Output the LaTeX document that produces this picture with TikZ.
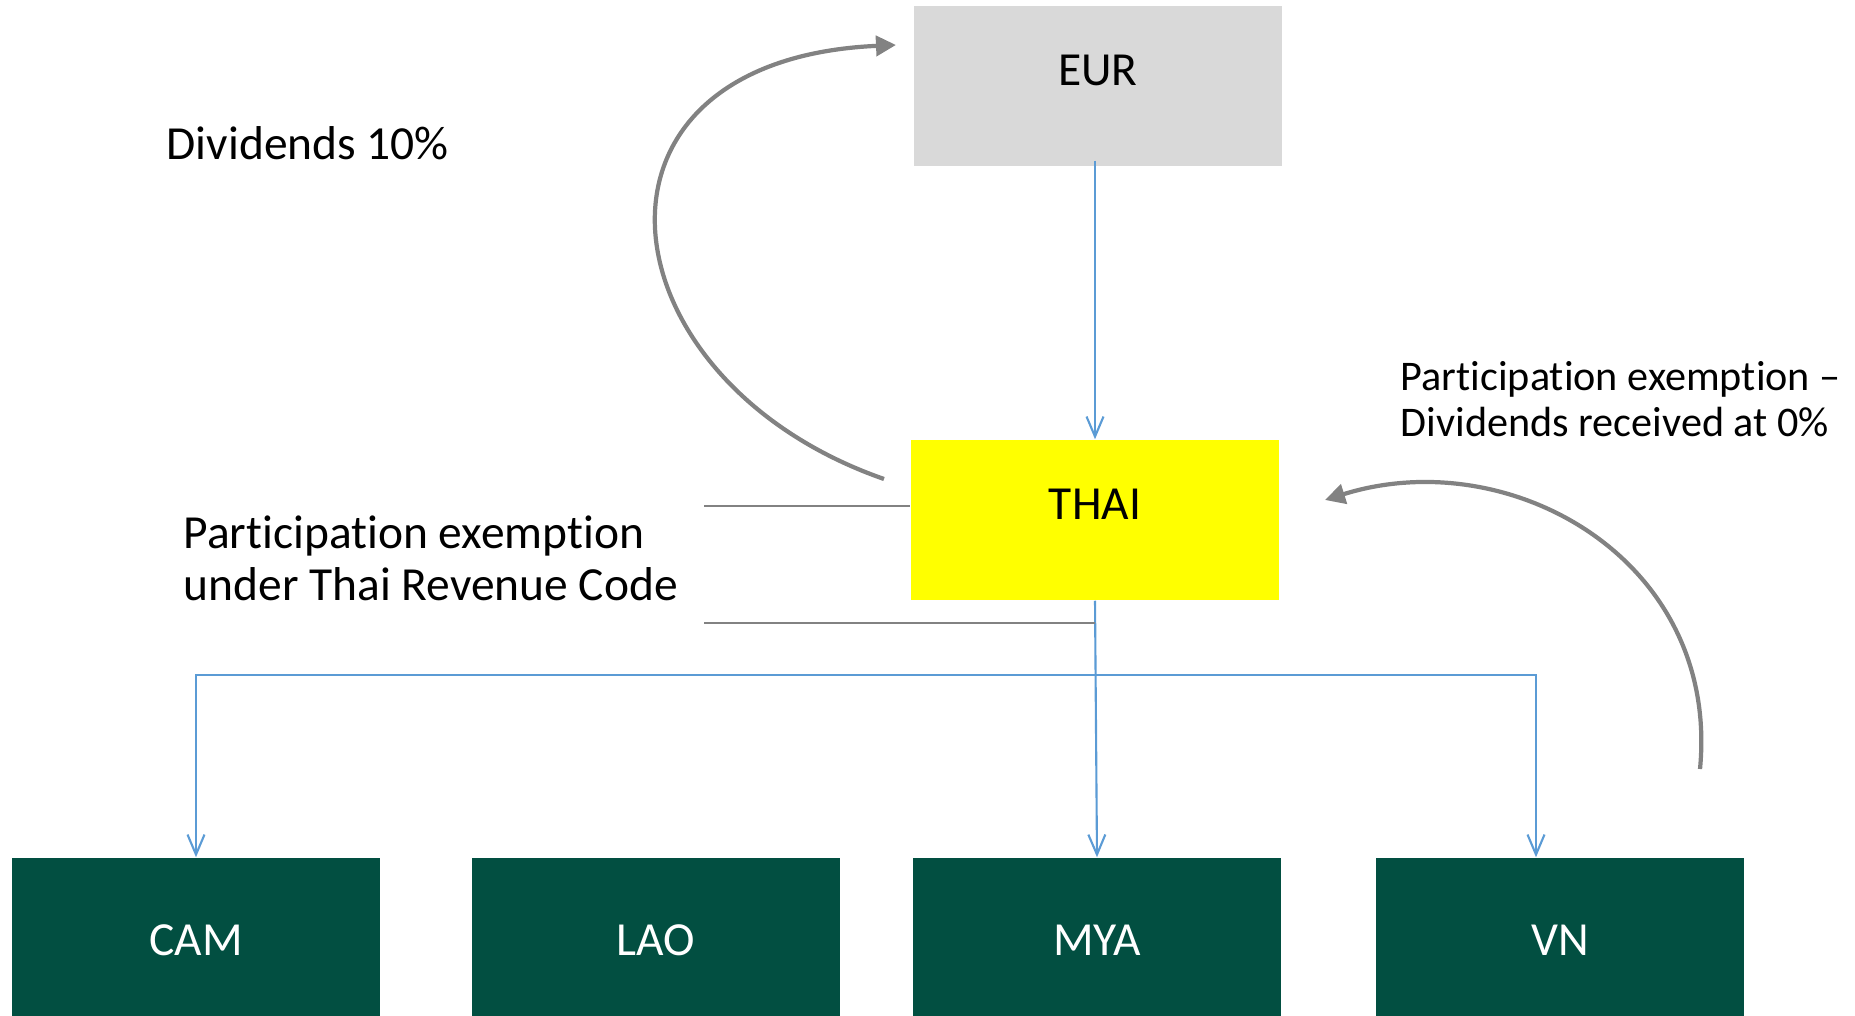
\documentclass[tikz,border=0pt]{standalone}
\usepackage{fontspec}
\setmainfont{Carlito}[Ligatures=NoCommon]
\usetikzlibrary{arrows.meta}

\definecolor{eurgray}{HTML}{D9D9D9}
\definecolor{thaiyellow}{HTML}{FFFF00}
\definecolor{subgreen}{HTML}{024F41}
\definecolor{linkblue}{HTML}{5B9BD5}
\definecolor{flowgray}{HTML}{828282}

\begin{document}
\begin{tikzpicture}[x=0.01cm, y=-0.01cm,
    entity/.style={rectangle, minimum width=3.68cm, minimum height=1.6cm, inner sep=0pt,
        font=\fontsize{13.5}{15}\selectfont, text height=0.3cm, text depth=0.3cm},
    sub/.style={rectangle, fill=subgreen, text=white, minimum width=3.68cm, minimum height=1.64cm,
        inner sep=0pt, font=\fontsize{13.5}{15}\selectfont},
    link/.style={linkblue, line width=0.6pt, -{Straight Barb[length=0.2cm, width=0.17cm]}},
    divflow/.style={flowgray, line width=1.2pt, -{Triangle[length=0.2cm, width=0.2cm]}},
    rule/.style={flowgray, line width=0.5pt},
    note/.style={inner sep=0pt, anchor=west, align=left}]
    \useasboundingbox (0,0) rectangle (1855,1016);

    % Define entities
    \node[entity, fill=eurgray] (EUR) at (1098,86) {EUR};
    \node[entity, fill=thaiyellow] (THAI) at (1095,520) {THAI};
    \node[sub] (CAM) at (196,940) {CAM};
    \node[sub] (LAO) at (656,940) {LAO};
    \node[sub] (MYA) at (1097,940) {MYA};
    \node[sub] (VN) at (1560,940) {VN};

    % Notes
    \node[note, font=\fontsize{13.5}{15}\selectfont] (divten) at (166,143) {Dividends 10\%};
    \node[note, font=\fontsize{13.5}{14.8}\selectfont] (pexleft) at (183,558)
        {Participation exemption\\under Thai Revenue Code};
    \node[note, font=\fontsize{12}{13.1}\selectfont] (pexright) at (1400,399)
        {Participation exemption --\\Dividends received at 0\%};

    % Ownership links
    \coordinate (split) at (1095,675);
    \draw[link] ([yshift=0.06cm]THAI.north |- EUR.south) -- (THAI.north);
    \draw[link] (THAI.south) -- (MYA.north);
    \draw[link] (split) -| (CAM.north);
    \draw[link] (split) -| ([xshift=-0.24cm]VN.north);

    % Bracket lines for the exemption note
    \coordinate (ruleA) at (704,506);
    \coordinate (ruleB) at (704,623);
    \draw[rule] (ruleA) -- (ruleA -| THAI.west);
    \draw[rule] (ruleB) -- (ruleB -| THAI.south);

    % Dividend flows
    \coordinate (upStart) at (884,479);
    \coordinate (upEnd) at (896,45);
    \draw[divflow] (upStart) .. controls (600,380) and (560,60) .. (upEnd);
    \coordinate (inStart) at (1700,769);
    \coordinate (inEnd) at (1325,500);
    \draw[divflow] (inStart) .. controls (1720,560) and (1510,442) .. (inEnd);
\end{tikzpicture}
\end{document}
